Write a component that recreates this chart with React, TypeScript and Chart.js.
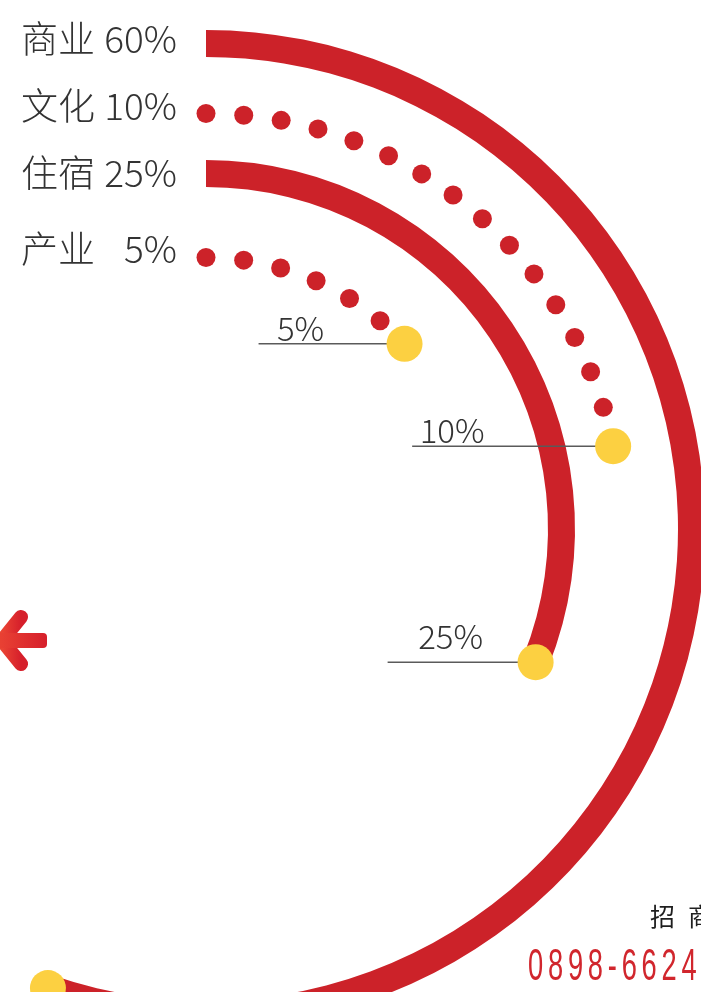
import React, { useEffect, useRef } from 'react';
import { Chart, registerables } from 'chart.js';

Chart.register(...registerables);

// ---- data ----
const categories = ['商业', '文化', '住宿', '产业'];
const shareLabels = ['60%', '10%', '25%', '5%'];
// angular extent (degrees, clockwise from 12 o'clock) of each drawn ring
const arcSweepDeg = [199, 78.5, 112, 47];
const FULL_TURN = 360;

const RED = '#CC2229';
const YELLOW = '#FCD041';
const TEXT = '#333333';

const RING_DIAMETER = 998;
const PAD = 60;
const CANVAS_SIZE = RING_DIAMETER + 2 * PAD;
const CENTER_X = 206;
const CENTER_Y = 529;

const LABEL_FONT = '"Noto Sans CJK SC", "Noto Sans", sans-serif';

type Leader = { len: number; textDx: number; gap: number } | null;

const ringDecor = {
  id: 'ringDecor',
  afterDatasetsDraw(chart: any, _args: any, opts: any) {
    const ctx: CanvasRenderingContext2D = chart.ctx;
    const rings: any[] = [];
    chart.data.datasets.forEach((ds: any, di: number) => {
      if (ds.catIndex === undefined) return;
      const arc = chart.getDatasetMeta(di).data[0];
      const p = arc.getProps(['x', 'y', 'startAngle', 'endAngle', 'innerRadius', 'outerRadius'], true);
      rings.push({ ds, p });
    });

    // dotted rings
    rings.forEach(({ ds, p }) => {
      if (!ds.dotted) return;
      const r = (p.innerRadius + p.outerRadius) / 2;
      const dotR = (p.outerRadius - p.innerRadius) / 2;
      const step = opts.dotSpacing / r;
      ctx.save();
      ctx.fillStyle = RED;
      for (let a = p.startAngle; a <= p.endAngle - 0.6 * step + 1e-9; a += step) {
        ctx.beginPath();
        ctx.arc(p.x + r * Math.cos(a), p.y + r * Math.sin(a), dotR, 0, Math.PI * 2);
        ctx.fill();
      }
      ctx.restore();
    });

    // leader lines + value labels
    rings.forEach(({ ds, p }) => {
      const leader: Leader = opts.leaders[ds.catIndex];
      if (!leader) return;
      const r = (p.innerRadius + p.outerRadius) / 2;
      const ex = p.x + r * Math.cos(p.endAngle);
      const ey = p.y + r * Math.sin(p.endAngle);
      const sx = ex - leader.len;
      ctx.save();
      ctx.strokeStyle = '#5a5a5a';
      ctx.lineWidth = 1.5;
      ctx.beginPath();
      ctx.moveTo(sx, ey);
      ctx.lineTo(ex, ey);
      ctx.stroke();
      ctx.fillStyle = TEXT;
      ctx.font = `300 33px ${LABEL_FONT}`;
      ctx.textAlign = 'center';
      ctx.textBaseline = 'alphabetic';
      ctx.fillText(shareLabels[ds.catIndex], sx + leader.textDx, ey - leader.gap);
      ctx.restore();
    });

    // yellow end markers
    rings.forEach(({ p }) => {
      const r = (p.innerRadius + p.outerRadius) / 2;
      ctx.save();
      ctx.fillStyle = YELLOW;
      ctx.beginPath();
      ctx.arc(p.x + r * Math.cos(p.endAngle), p.y + r * Math.sin(p.endAngle), opts.markerRadius, 0, Math.PI * 2);
      ctx.fill();
      ctx.restore();
    });

    // left legend labels at each ring start
    rings.forEach(({ ds, p }) => {
      const r = (p.innerRadius + p.outerRadius) / 2;
      const sy = p.y - r + opts.labelBaseline[ds.catIndex];
      ctx.save();
      ctx.fillStyle = TEXT;
      ctx.font = `300 37px ${LABEL_FONT}`;
      ctx.textAlign = 'right';
      ctx.textBaseline = 'alphabetic';
      ctx.fillText(categories[ds.catIndex], p.x - opts.nameRight, sy);
      ctx.fillText(shareLabels[ds.catIndex], p.x - opts.pctRight, sy);
      ctx.restore();
    });
  },
};

function ring(i: number, dotted: boolean, weight: number) {
  return {
    label: categories[i],
    data: [arcSweepDeg[i], FULL_TURN - arcSweepDeg[i]],
    backgroundColor: [dotted ? 'rgba(0,0,0,0)' : RED, 'rgba(0,0,0,0)'],
    weight,
    borderWidth: 0,
    hoverBorderWidth: 0,
    offset: 0,
    hoverOffset: 0,
    catIndex: i,
    dotted,
  };
}

function gap(weight: number) {
  return {
    label: '',
    data: [1],
    backgroundColor: ['rgba(0,0,0,0)'],
    weight,
    borderWidth: 0,
    hoverBorderWidth: 0,
    offset: 0,
    hoverOffset: 0,
  };
}

export default function App() {
  const ref = useRef<HTMLCanvasElement | null>(null);

  useEffect(() => {
    if (!ref.current) return;
    const chart = new Chart(ref.current, {
      type: 'doughnut',
      data: {
        labels: ['value', 'rest'],
        datasets: [
          ring(0, false, 27),
          gap(47),
          ring(1, true, 19),
          gap(37),
          ring(2, false, 27),
          gap(61),
          ring(3, true, 19),
        ] as any,
      },
      options: {
        responsive: false,
        animation: false,
        devicePixelRatio: 1,
        events: [],
        cutout: 262,
        rotation: 0,
        circumference: 360,
        spacing: 0,
        layout: { padding: PAD },
        plugins: {
          legend: { display: false },
          tooltip: { enabled: false },
          ringDecor: {
            dotSpacing: 37.8,
            markerRadius: 18,
            leaders: [
              null,
              { len: 201, textDx: 40, gap: 3 },
              { len: 148, textDx: 63, gap: 13 },
              { len: 146, textDx: 42, gap: 3 },
            ],
            labelBaseline: [9.5, 6.5, 13.5, 5.5],
            nameRight: 111,
            pctRight: 29,
          },
        } as any,
      },
      plugins: [ringDecor],
    });
    return () => chart.destroy();
  }, []);

  return (
    <div
      style={{
        position: 'absolute',
        left: 0,
        top: 0,
        width: 701,
        height: 992,
        overflow: 'hidden',
        background: '#ffffff',
      }}
    >
      <canvas
        ref={ref}
        width={CANVAS_SIZE}
        height={CANVAS_SIZE}
        style={{
          position: 'absolute',
          left: CENTER_X - CANVAS_SIZE / 2,
          top: CENTER_Y - CANVAS_SIZE / 2,
          width: CANVAS_SIZE,
          height: CANVAS_SIZE,
        }}
      />
      <svg
        width={60}
        height={80}
        style={{ position: 'absolute', left: 0, top: 600 }}
      >
        <defs>
          <linearGradient id="arrowGrad" x1="0" y1="0" x2="1" y2="0">
            <stop offset="0" stopColor="#EA4434" />
            <stop offset="1" stopColor="#D61F2B" />
          </linearGradient>
        </defs>
        <polyline
          points="21,17 2,40.5 21,64"
          fill="none"
          stroke="url(#arrowGrad)"
          strokeWidth={14}
          strokeLinecap="round"
          strokeLinejoin="round"
        />
        <rect x={-4} y={33} width={51} height={15} rx={4} fill="url(#arrowGrad)" />
      </svg>
      <div
        style={{
          position: 'absolute',
          left: 650,
          top: 903,
          fontFamily: LABEL_FONT,
          fontSize: 25,
          lineHeight: '25px',
          letterSpacing: 13,
          color: '#1f1f1f',
          whiteSpace: 'nowrap',
        }}
      >
        招商
      </div>
      <div
        style={{
          position: 'absolute',
          left: 528,
          top: 943,
          fontFamily: '"Liberation Sans", Arial, sans-serif',
          fontSize: 44,
          lineHeight: '44px',
          letterSpacing: 7.7,
          color: '#D1262D',
          whiteSpace: 'nowrap',
          transform: 'scaleX(0.62)',
          transformOrigin: 'left top',
        }}
      >
        0898-6624
      </div>
    </div>
  );
}
